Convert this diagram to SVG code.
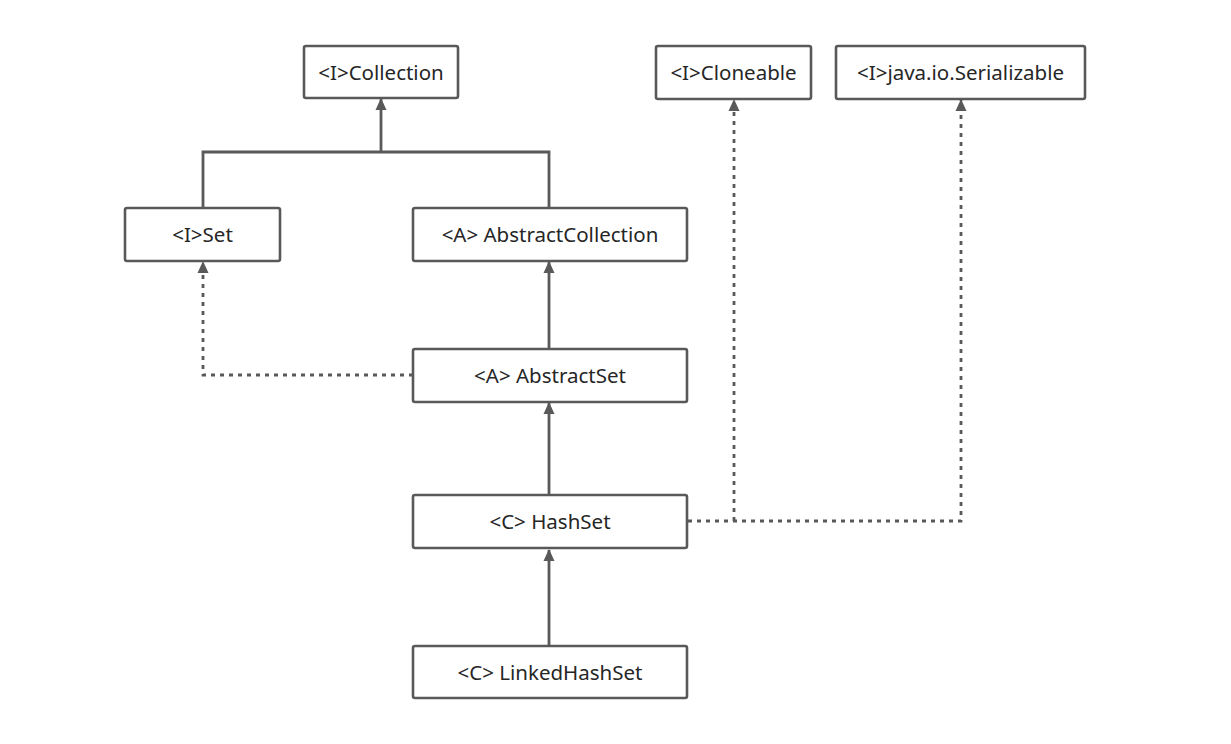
<svg xmlns="http://www.w3.org/2000/svg" width="1231" height="744" viewBox="0 0 1231 744">
  <defs>
    <marker id="tri" markerWidth="12" markerHeight="12" viewBox="0 0 12 12" refX="11" refY="6" orient="auto" markerUnits="userSpaceOnUse">
      <path d="M0,0.5 L12,6 L0,11.5 Z" fill="#595959"/>
    </marker>
  </defs>
  <style>
    .box rect { fill: #ffffff; stroke: #595959; stroke-width: 2.6; }
    .box text { font-family: "Noto Sans", "Open Sans", sans-serif; font-size: 20.5px; fill: #262626; text-anchor: middle; dominant-baseline: central; }
    .edge { fill: none; stroke: #595959; stroke-width: 2.8; }
    .dash { stroke-dasharray: 4 5; }
  </style>
  <rect width="1231" height="744" fill="#ffffff"/>

  <g id="connectors">
    <!-- Set / AbstractCollection extend Collection -->
    <path class="edge" d="M203,208 V152 H549 V208"/>
    <path class="edge" d="M381,152 V99" marker-end="url(#tri)"/>
    <!-- AbstractSet implements Set -->
    <path class="edge dash" d="M413,375 H203 V262" marker-end="url(#tri)"/>
    <!-- AbstractSet extends AbstractCollection -->
    <path class="edge" d="M549,349 V262" marker-end="url(#tri)"/>
    <!-- HashSet extends AbstractSet -->
    <path class="edge" d="M549,495 V403" marker-end="url(#tri)"/>
    <!-- LinkedHashSet extends HashSet -->
    <path class="edge" d="M549,646 V550" marker-end="url(#tri)"/>
    <!-- HashSet implements Cloneable / Serializable -->
    <path class="edge dash" d="M688,521 H961 V100" marker-end="url(#tri)"/>
    <path class="edge dash" d="M734,521 V100" marker-end="url(#tri)"/>
  </g>

  <g id="collection" class="box">
    <rect x="304" y="46" width="154" height="52" rx="2"/>
    <text x="381" y="72">&lt;I&gt;Collection</text>
  </g>
  <g id="cloneable" class="box">
    <rect x="656" y="46" width="155" height="53" rx="2"/>
    <text x="733.5" y="72">&lt;I&gt;Cloneable</text>
  </g>
  <g id="serializable" class="box">
    <rect x="836" y="46" width="249" height="53" rx="2"/>
    <text x="960.5" y="72">&lt;I&gt;java.io.Serializable</text>
  </g>
  <g id="set" class="box">
    <rect x="125" y="208" width="155" height="53" rx="2"/>
    <text x="202.5" y="234">&lt;I&gt;Set</text>
  </g>
  <g id="abstract-collection" class="box">
    <rect x="413" y="208" width="274" height="53" rx="2"/>
    <text x="550" y="234">&lt;A&gt; AbstractCollection</text>
  </g>
  <g id="abstract-set" class="box">
    <rect x="413" y="349" width="274" height="53" rx="2"/>
    <text x="550" y="375">&lt;A&gt; AbstractSet</text>
  </g>
  <g id="hash-set" class="box">
    <rect x="413" y="495" width="274" height="53" rx="2"/>
    <text x="550" y="521">&lt;C&gt; HashSet</text>
  </g>
  <g id="linked-hash-set" class="box">
    <rect x="413" y="646" width="274" height="52" rx="2"/>
    <text x="550" y="672">&lt;C&gt; LinkedHashSet</text>
  </g>
</svg>
